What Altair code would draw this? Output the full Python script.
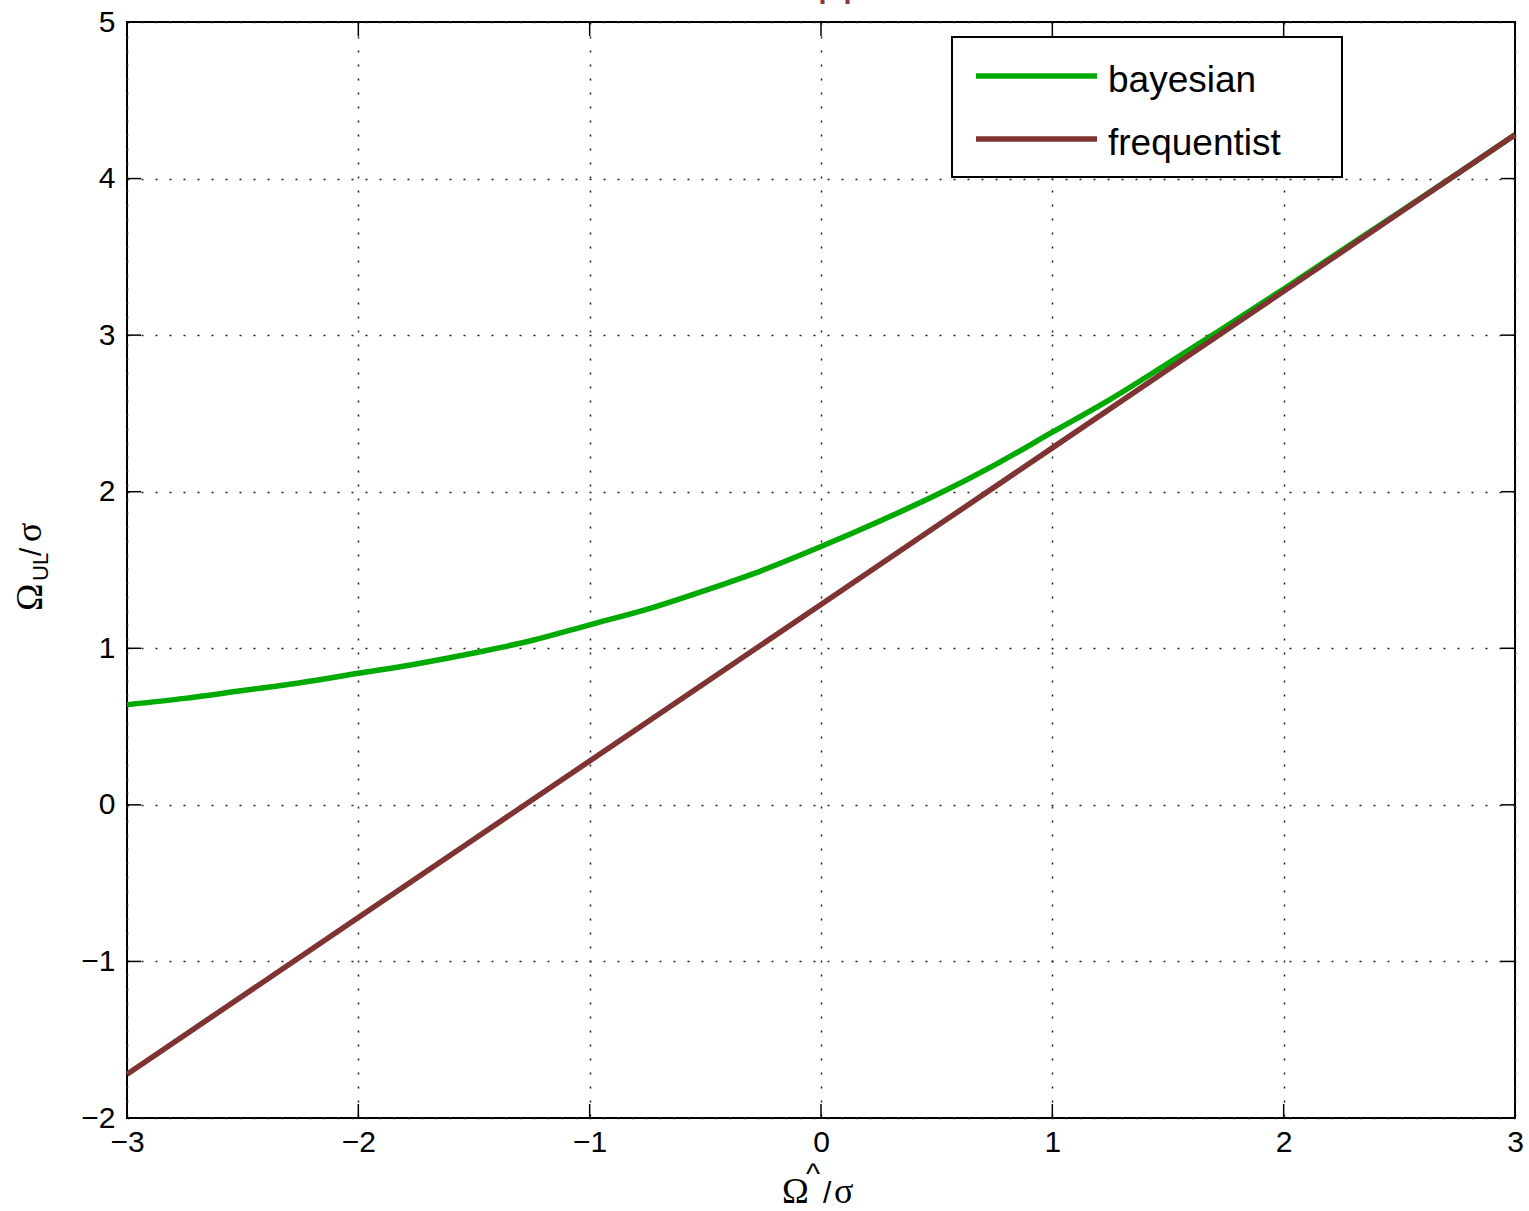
import altair as alt
import pandas as pd

# ---- data ----
bayes_x = [-3, -2.75, -2.5, -2.25, -2, -1.75, -1.5, -1.25, -1, -0.75, -0.5, -0.25,
           0, 0.25, 0.5, 0.75, 1, 1.25, 1.5, 1.75, 2, 2.25, 2.5, 2.75, 3]
bayes_y = [0.64, 0.68, 0.73, 0.78, 0.84, 0.90, 0.97, 1.05, 1.15, 1.25, 1.37, 1.50,
           1.65, 1.81, 1.98, 2.17, 2.38, 2.59, 2.82, 3.055, 3.295, 3.54, 3.785, 4.03, 4.28]
freq_x = [-3, -2, -1, 0, 1, 2, 3]
freq_y = [-1.72, -0.72, 0.28, 1.28, 2.28, 3.28, 4.28]
series_names = ["bayesian", "frequentist"]
series_colors = ["#00AA00", "#7F3333"]
x_ticks = [-3, -2, -1, 0, 1, 2, 3]
y_ticks = [-2, -1, 0, 1, 2, 3, 4, 5]

W, H = 1388, 1096
SANS = "Liberation Sans"
SERIF = "Liberation Serif"

df = pd.concat([
    pd.DataFrame({"x": bayes_x, "y": bayes_y, "series": "bayesian"}),
    pd.DataFrame({"x": freq_x, "y": freq_y, "series": "frequentist"}),
])

xscale = alt.Scale(domain=[-3, 3], nice=False, zero=False)
yscale = alt.Scale(domain=[-2, 5], nice=False, zero=False)

axis_common = dict(labelFont=SANS, labelFontSize=30, labelColor="black",
                   tickSize=0, domain=False, grid=True, gridDash=[2, 12],
                   gridColor="#222222", gridWidth=1.5, gridOpacity=1, title=None,
                   format="d", labelFlush=False, labelOverlap=False, labelBound=False)
x_axis = alt.Axis(values=x_ticks, labelPadding=9, **axis_common)
y_axis = alt.Axis(values=y_ticks, labelPadding=12, **axis_common)

lines = alt.Chart(df).mark_line(strokeWidth=5.5, interpolate="monotone").encode(
    x=alt.X("x:Q", scale=xscale, axis=x_axis),
    y=alt.Y("y:Q", scale=yscale, axis=y_axis),
    color=alt.Color("series:N", scale=alt.Scale(domain=series_names, range=series_colors), legend=None),
    detail="series:N",
)

xt = pd.DataFrame({"x": x_ticks})
yt = pd.DataFrame({"y": y_ticks})
TL = 14
tick_style = dict(color="black", strokeWidth=1.5)
xtick_b = alt.Chart(xt).mark_rule(**tick_style).encode(
    x=alt.X("x:Q", scale=xscale, axis=x_axis), y=alt.value(H), y2=alt.value(H - TL))
xtick_t = alt.Chart(xt).mark_rule(**tick_style).encode(
    x=alt.X("x:Q", scale=xscale, axis=x_axis), y=alt.value(0), y2=alt.value(TL))
ytick_l = alt.Chart(yt).mark_rule(**tick_style).encode(
    y=alt.Y("y:Q", scale=yscale, axis=y_axis), x=alt.value(0), x2=alt.value(TL))
ytick_r = alt.Chart(yt).mark_rule(**tick_style).encode(
    y=alt.Y("y:Q", scale=yscale, axis=y_axis), x=alt.value(W), x2=alt.value(W - TL))


def label(text, x, y, size, font=SANS, align="left", baseline="alphabetic", angle=0, color="black"):
    kw = dict(text=text, font=font, fontSize=size, align=align, baseline=baseline, color=color)
    if angle:
        kw["angle"] = angle
    return alt.Chart(alt.Data(values=[{}])).mark_text(**kw).encode(x=alt.value(x), y=alt.value(y))


# legend box
legend_box = alt.Chart(alt.Data(values=[{}])).mark_rect(
    fill="white", stroke="black", strokeWidth=2).encode(
    x=alt.value(825), x2=alt.value(1215), y=alt.value(15), y2=alt.value(155))
leg_layers = [legend_box]
for i, (name, col) in enumerate(zip(series_names, series_colors)):
    yy = 54 + 63 * i
    leg_layers.append(alt.Chart(alt.Data(values=[{}])).mark_rule(color=col, strokeWidth=5.5).encode(
        x=alt.value(849), x2=alt.value(970), y=alt.value(yy)))
    leg_layers.append(label(name, 981, yy + 16, 37))

# axis titles (Omega_UL / sigma ; Omega^ / sigma)
texts = [
    # y title, rotated
    label("Ω", -85, 589, 37, font=SERIF, angle=270),
    label("UL", -79, 559, 22, angle=270),
    label("/", -86, 534, 30, angle=270),
    label("σ", -86, 520, 36, font=SERIF, angle=270),
    # x title
    label("Ω", 655, 1181, 36, font=SERIF),
    label("^", 679, 1162, 30),
    label("/", 696, 1181, 30),
    label("σ", 707, 1181, 36, font=SERIF),
    # clipped title (only descenders visible)
    label("Upper limit", 658, -27, 45, color="#8B3A3A"),
]

chart = alt.layer(
    lines, xtick_b, xtick_t, ytick_l, ytick_r, *leg_layers, *texts
).properties(
    width=W, height=H,
    padding={"left": 127, "top": 22, "right": 14, "bottom": 93},
    autosize=alt.AutoSizeParams(type="none"),
    background="white",
).configure_view(stroke="black", strokeWidth=2)

chart.save("out.html", embed_options={"renderer": "svg", "actions": False})
